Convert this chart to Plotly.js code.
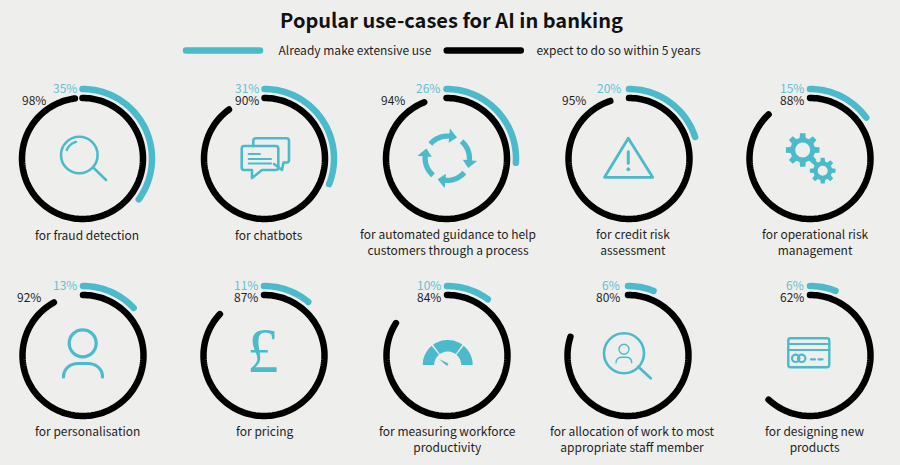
<!DOCTYPE html>
<html>
<head>
<meta charset="utf-8">
<script src="https://cdn.plot.ly/plotly-3.0.1.min.js"></script>
<style>
html,body{margin:0;padding:0;background:#eeeeed;overflow:hidden}
#chart{width:900px;height:465px}
path.js-line{stroke-linecap:round}
.shapelayer path{stroke-linecap:round;stroke-linejoin:round}
</style>
</head>
<body>
<div id="chart"></div>
<script>
// ---- data ----
const useCases = [
  "for fraud detection","for chatbots","for automated guidance to help<br>customers through a process",
  "for credit risk<br>assessment","for operational risk<br>management",
  "for personalisation","for pricing","for measuring workforce<br>productivity",
  "for allocation of work to most<br>appropriate staff member","for designing new<br>products"
];
const alreadyUse = [35,31,26,20,15,13,11,10,6,6];
const within5Years = [98,90,94,95,88,92,87,84,80,62];
const seriesNames = ["Already make extensive use","expect to do so within 5 years"];
const chartTitle = "Popular use-cases for AI in banking";

// ---- layout constants ----
const W=900,H=465, BLUE="#4bbbcc", LBLUE="#62c2d1", BLACK="#000000", BG="#eeeeed", INK="#1f1f1f";
const FONT='"Noto Sans CJK SC","Noto Sans",sans-serif';
const centerX=[82.5,264.5,446.5,629,810,83,264,447,628,810];
const centerY=[158.5,158.5,158.5,158.5,158.5,355.5,355.5,355.5,355.5,355.5];
const rBlack=60.5, rBlue=69.5, half=80;
const blueLabelRight=[77.5,260,441,622,805,77.5,258.7,441.7,621,805];
const blackLabelRight=[46.7,260,405.7,586.7,805,42,258.7,441.7,621,805];
const labelX=[86.5,269,448,633,815,87,264.7,447.7,632,815];
const SP="\u00a0";

const traces=[], annotations=[], shapes=[];
const layout={
  width:W,height:H,margin:{l:0,r:0,t:0,b:0},paper_bgcolor:BG,plot_bgcolor:BG,
  font:{family:FONT,color:INK,size:12},
  title:{text:"<b>"+chartTitle+"</b>",font:{family:FONT,size:20,color:"#111"},x:451.5/W,xanchor:"center",y:1-21/H,yanchor:"middle"},
  legend:{orientation:"h",x:181/W,xanchor:"left",y:1-50.5/H,yanchor:"middle",itemwidth:74,
    bgcolor:"rgba(0,0,0,0)",font:{family:FONT,size:12,color:INK},itemclick:false,itemdoubleclick:false},
  annotations,shapes,hovermode:false
};
function arc(value,r){
  const th=[],rr=[];
  const end=value*3.6;
  for(let a=0;a<end;a+=2){th.push(a);rr.push(r);}
  th.push(end);rr.push(r);
  return {theta:th,r:rr};
}
function txt(x,y,text,color,anchor,size,family){
  annotations.push({xref:"paper",yref:"paper",x:x/W,y:1-y/H,text,showarrow:false,xanchor:anchor,yanchor:"middle",
    align:"center",font:{family:family||FONT,size:size,color},borderpad:0});
}
useCases.forEach((label,i)=>{
  const id=i===0?"polar":"polar"+(i+1);
  const cx=centerX[i],cy=centerY[i];
  layout[id]={
    domain:{x:[(cx-half)/W,(cx+half)/W],y:[1-(cy+half)/H,1-(cy-half)/H]},
    bgcolor:"rgba(0,0,0,0)",
    radialaxis:{visible:false,range:[0,half]},
    angularaxis:{visible:false,rotation:90,direction:"clockwise"}
  };
  const k=arc(within5Years[i],rBlack), b=arc(alreadyUse[i],rBlue);
  traces.push({type:"scatterpolar",subplot:id,mode:"lines",name:SP.repeat(4)+seriesNames[1],r:k.r,theta:k.theta,
    line:{color:BLACK,width:6.5},showlegend:i===0,legendrank:2,hoverinfo:"skip"});
  traces.push({type:"scatterpolar",subplot:id,mode:"lines",name:SP.repeat(5)+seriesNames[0]+SP.repeat(2),r:b.r,theta:b.theta,
    line:{color:BLUE,width:6.5},showlegend:i===0,legendrank:1,hoverinfo:"skip"});
  txt(blueLabelRight[i],cy-71.5,alreadyUse[i]+"%",LBLUE,"right",12);
  txt(blackLabelRight[i],cy-59,within5Years[i]+"%",INK,"right",12);
  const capY=(i<5?234.2:430.8);
  const lines=label.split("<br>").length;
  txt(labelX[i],capY+7.6*(lines-1),label,INK,"center",12);
});

// ---- decorative icons, in page pixels ----
function P(d){
  let n=0;
  return d.replace(/-?\d+(\.\d+)?/g,m=>{const v=parseFloat(m);return ((n++%2===0)?(v/W):(1-v/H)).toFixed(5);});
}
function stroke(d,w,c){shapes.push({type:"path",xref:"paper",yref:"paper",path:P(d),line:{color:c||BLUE,width:w},fillcolor:"rgba(0,0,0,0)",layer:"above"});}
function fill(d,c){shapes.push({type:"path",xref:"paper",yref:"paper",path:P(d),line:{width:0},fillcolor:c||BLUE,layer:"above"});}
function circle(cx,cy,r,w,fc,lc){shapes.push({type:"circle",xref:"paper",yref:"paper",x0:(cx-r)/W,x1:(cx+r)/W,y0:1-(cy+r)/H,y1:1-(cy-r)/H,
  line:{color:lc||BLUE,width:w},fillcolor:fc||"rgba(0,0,0,0)",layer:"above"});}
function pol(cx,cy,r,deg){const t=deg*Math.PI/180;return (cx+r*Math.sin(t)).toFixed(2)+","+(cy-r*Math.cos(t)).toFixed(2);}
function arcD(cx,cy,r,a0,a1,start){let s=(start?"M":"L")+pol(cx,cy,r,a0);const st=(a1>a0?3:-3);
  for(let a=a0+st;(st>0?a<a1:a>a1);a+=st)s+=" L"+pol(cx,cy,r,a);return s+" L"+pol(cx,cy,r,a1);}
// magnifier
circle(79.3,155,18.3,2.6);
stroke("M94,168.3 L106,180",2.6);
stroke(arcD(79.3,155,13.5,-68,-14,true),2.4);
// chat bubbles
stroke("M253.3,146 L253.3,141 Q253.3,138.3 256,138.3 L286.5,138.3 Q289,138.3 289,141 L289,160 Q289,162.5 286.5,162.5 L283.5,162.5 L282,170 L274,164",2.6);
stroke("M244,146 L276,146 Q278.3,146 278.3,148.5 L278.3,167.5 Q278.3,170 276,170 L262,170 L252,178 L252,170 L244,170 Q241.7,170 241.7,167.5 L241.7,148.5 Q241.7,146 244,146 Z",2.6);
stroke("M248.7,154 L260,154",2);stroke("M248.7,159 L271,159",2);stroke("M248.7,163.5 L271,163.5",2);
// cycle arrows
[0,90,180,270].forEach(rot=>{
  const c=[447.3,158.3];
  fill(arcD(c[0],c[1],24.8,rot-50,rot+5,true)+" "+"L"+pol(c[0],c[1],30,rot+5)+" L"+pol(c[0],c[1],23,rot+25)+" L"+pol(c[0],c[1],15.5,rot+5)+" L"+pol(c[0],c[1],19.5,rot+5)+" "+arcD(c[0],c[1],19.5,rot+5,rot-50,false)+" Z");
});
// warning triangle
stroke("M628.3,138.3 L652.7,177.3 L604.5,177.3 Z",2.8);
stroke("M628.3,151.7 L628.3,163.3",3);
circle(628.3,169.3,1.5,1,BLUE);
// gears
function gear(cx,cy,ro,ri,teeth,hole){
  let d="";const st=360/teeth;
  for(let j=0;j<teeth;j++){const a=j*st;
    d+=(j?"L":"M")+pol(cx,cy,ri,a-st*0.32)+" L"+pol(cx,cy,ro,a-st*0.2)+" L"+pol(cx,cy,ro,a+st*0.2)+" L"+pol(cx,cy,ri,a+st*0.32)+" ";}
  fill(d+"Z");circle(cx,cy,hole,0,BG,BG);
}
gear(802.7,150,17,12.5,8,7.5);
gear(822.7,170.7,13,9.5,8,5);
// person
circle(82.7,343.3,13.5,3.2);
stroke("M63.5,377 C63.5,368 71,363.5 78,363.5 L88,363.5 C95,363.5 102.5,368 102.5,377",3.2);
// pound
txt(263,351,"£",BLUE,"center",63,'"Liberation Serif",serif');
// gauge
[[-90,-40],[-36,36],[40,90]].forEach(s=>{
  const c=[447.7,365];
  fill(arcD(c[0],c[1],25,s[0],s[1],true)+" "+arcD(c[0],c[1],13.5,s[1],s[0],false)+" Z");
});
fill("M439,359 L448.5,363.5 L447,366 Z");
// magnifier with person
circle(624,353.3,20,2.6);
stroke("M638.3,366.7 L650.7,378.3",2.8);
circle(624,349.3,5,1.4);
stroke("M616,362.7 C616,359 619,357.3 622,357.3 L626,357.3 C629,357.3 631.7,359 631.7,362.7",1.4);
// card
stroke("M790.5,338.3 L827,338.3 Q829.3,338.3 829.3,340.5 L829.3,365 Q829.3,367.3 827,367.3 L790.5,367.3 Q788.3,367.3 788.3,365 L788.3,340.5 Q788.3,338.3 790.5,338.3 Z",2.4);
stroke("M788.3,344 L829.3,344",2);stroke("M788.3,350 L829.3,350",2);
circle(795.7,358.3,3.7,2.2);circle(801.7,358.3,3.7,2.2);
stroke("M811,359.3 L815,359.3",2.2);stroke("M818.5,359.3 L822.5,359.3",2.2);

Plotly.newPlot("chart",traces,layout,{displayModeBar:false,responsive:false});
</script>
</body>
</html>
